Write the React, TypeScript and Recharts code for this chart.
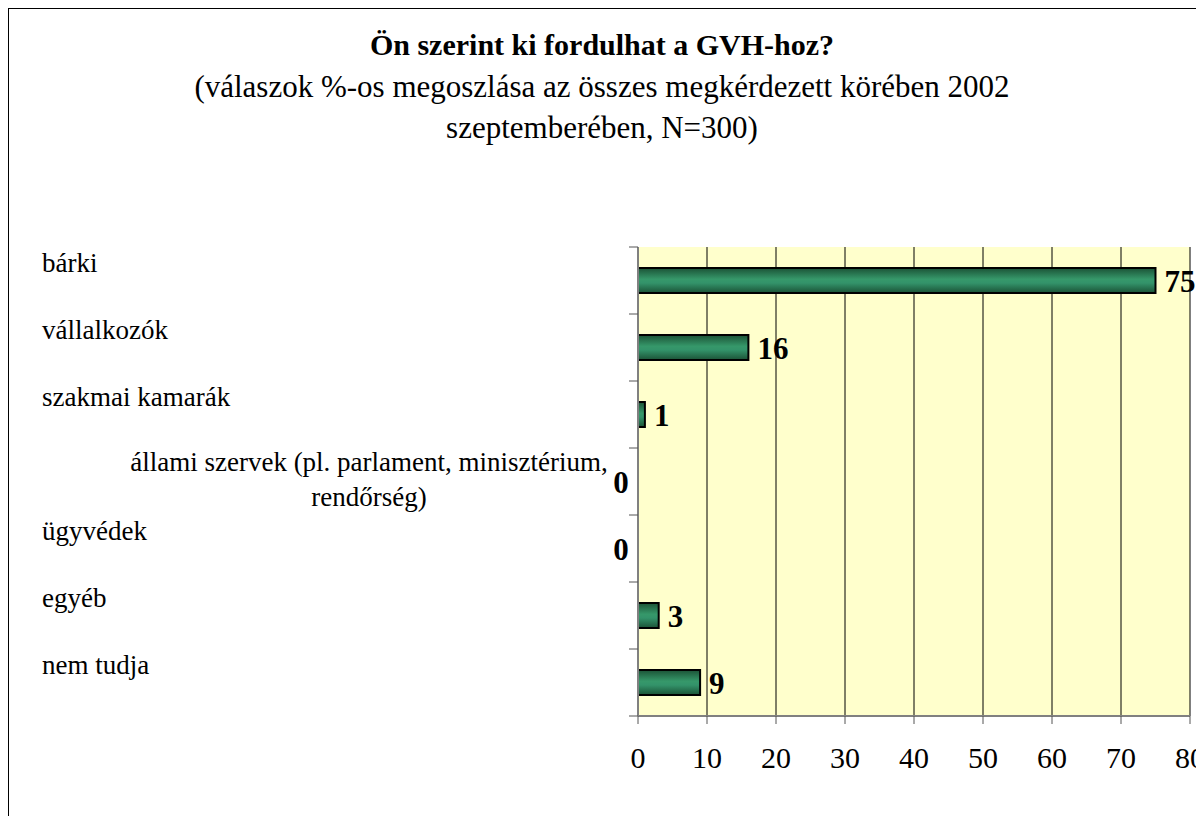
import { BarChart, Bar, XAxis, YAxis, CartesianGrid, LabelList } from 'recharts';

const categories = [
  'bárki',
  'vállalkozók',
  'szakmai kamarák',
  'állami szervek (pl. parlament, minisztérium, rendőrség)',
  'ügyvédek',
  'egyéb',
  'nem tudja',
];
const shares = [75, 16, 1, 0, 0, 3, 9];
const xTicks = [0, 10, 20, 30, 40, 50, 60, 70, 80];

const chartData = categories.map((name, i) => ({ name, value: shares[i] }));

const CHART_W = 1200;
const CHART_H = 800;
const MARGIN = { top: 238, right: 19, bottom: 33, left: 29 };
const Y_AXIS_W = 600;
const X_AXIS_H = 60;
const BAND = (CHART_H - MARGIN.top - MARGIN.bottom - X_AXIS_H) / categories.length;

const SERIF = 'Liberation Serif';
const AXIS_GRAY = '#808080';

const catStyle = { fontFamily: SERIF, fontSize: 27 };
const valueStyle = { fontFamily: SERIF, fontSize: 31, fontWeight: 700 };

function CategoryTick(props: any) {
  const { x, y, payload } = props;
  const label: string = payload.value;
  const idx = categories.indexOf(label);
  const isLast = idx === categories.length - 1;
  // long label wraps after the last comma, centred like the original
  const cut = label.indexOf('(') >= 0 ? label.lastIndexOf(', ') : -1;
  return (
    <g>
      <line x1={x - 9} x2={x} y1={y - BAND / 2} y2={y - BAND / 2} stroke="#555" />
      {isLast && <line x1={x - 9} x2={x} y1={y + BAND / 2} y2={y + BAND / 2} stroke="#555" />}
      {cut > 0 ? (
        <text textAnchor="middle" fill="#000" style={catStyle}>
          <tspan x={360} y={y - 11}>{label.slice(0, cut + 1)}</tspan>
          <tspan x={360} y={y + 24}>{label.slice(cut + 2)}</tspan>
        </text>
      ) : (
        <text x={33} y={y - 9} textAnchor="start" fill="#000" style={catStyle}>
          {label}
        </text>
      )}
      {/* zero-width bars get no label from LabelList, so their "0" sits here */}
      {shares[idx] === 0 && (
        <text x={x - 17} y={y + 11} textAnchor="middle" fill="#000" style={valueStyle}>
          {shares[idx]}
        </text>
      )}
    </g>
  );
}

function ValueTick(props: any) {
  const { x, y, payload } = props;
  return (
    <text x={x} y={y + 44} textAnchor="middle" fill="#000" style={{ fontFamily: SERIF, fontSize: 30 }}>
      {payload.value}
    </text>
  );
}

function ValueLabel(props: any) {
  const { x, y, width, height, value } = props;
  if (!value) return null;
  return (
    <text x={x + width + 9} y={y + height / 2 + 11} textAnchor="start" fill="#000" style={valueStyle}>
      {value}
    </text>
  );
}

export default function App() {
  return (
    <div style={{ width: 1196, height: 808, overflow: 'hidden', fontFamily: SERIF }}>
      <div
        style={{
          position: 'relative',
          width: 1210,
          height: 820,
          border: '1px solid #000',
          background: '#fff',
        }}
      >
        <BarChart
          width={CHART_W}
          height={CHART_H}
          data={chartData}
          layout="vertical"
          margin={MARGIN}
        >
          <defs>
            <linearGradient id="barGreen" x1="0" y1="0" x2="0" y2="1">
              <stop offset="0%" stopColor="#1b5236" />
              <stop offset="45%" stopColor="#36986a" />
              <stop offset="60%" stopColor="#33936a" />
              <stop offset="100%" stopColor="#1b5236" />
            </linearGradient>
          </defs>
          <CartesianGrid horizontal={false} stroke="#000" fill="#FFFFCC" fillOpacity={1} />
          <XAxis
            type="number"
            domain={[0, 80]}
            ticks={xTicks}
            height={X_AXIS_H}
            axisLine={{ stroke: AXIS_GRAY, strokeWidth: 2 }}
            tickLine={{ stroke: '#555' }}
            tickSize={8}
            tickMargin={0}
            tick={<ValueTick />}
          />
          <XAxis
            xAxisId="top"
            orientation="top"
            type="number"
            domain={[0, 80]}
            height={0}
            tick={false}
            tickLine={false}
            axisLine={{ stroke: AXIS_GRAY, strokeWidth: 2 }}
          />
          <YAxis
            type="category"
            dataKey="name"
            width={Y_AXIS_W}
            axisLine={{ stroke: AXIS_GRAY, strokeWidth: 2 }}
            tickLine={false}
            tickSize={0}
            tickMargin={0}
            interval={0}
            tick={<CategoryTick />}
          />
          <YAxis
            yAxisId="right"
            orientation="right"
            type="category"
            dataKey="name"
            width={0}
            tick={false}
            tickLine={false}
            axisLine={{ stroke: AXIS_GRAY, strokeWidth: 2 }}
          />
          <Bar
            dataKey="value"
            barSize={25}
            fill="url(#barGreen)"
            stroke="#000"
            strokeWidth={2}
            isAnimationActive={false}
          >
            <LabelList dataKey="value" content={<ValueLabel />} />
          </Bar>
        </BarChart>
        <svg
          width={CHART_W}
          height={160}
          style={{ position: 'absolute', left: 0, top: 0, pointerEvents: 'none' }}
        >
          <text x={593} y={46} textAnchor="middle" style={{ fontFamily: SERIF, fontSize: 30, fontWeight: 700 }}>
            Ön szerint ki fordulhat a GVH-hoz?
          </text>
          <text x={593} y={88} textAnchor="middle" style={{ fontFamily: SERIF, fontSize: 31 }}>
            (válaszok %-os megoszlása az összes megkérdezett körében 2002
          </text>
          <text x={593} y={129} textAnchor="middle" style={{ fontFamily: SERIF, fontSize: 31 }}>
            szeptemberében, N=300)
          </text>
        </svg>
      </div>
    </div>
  );
}
